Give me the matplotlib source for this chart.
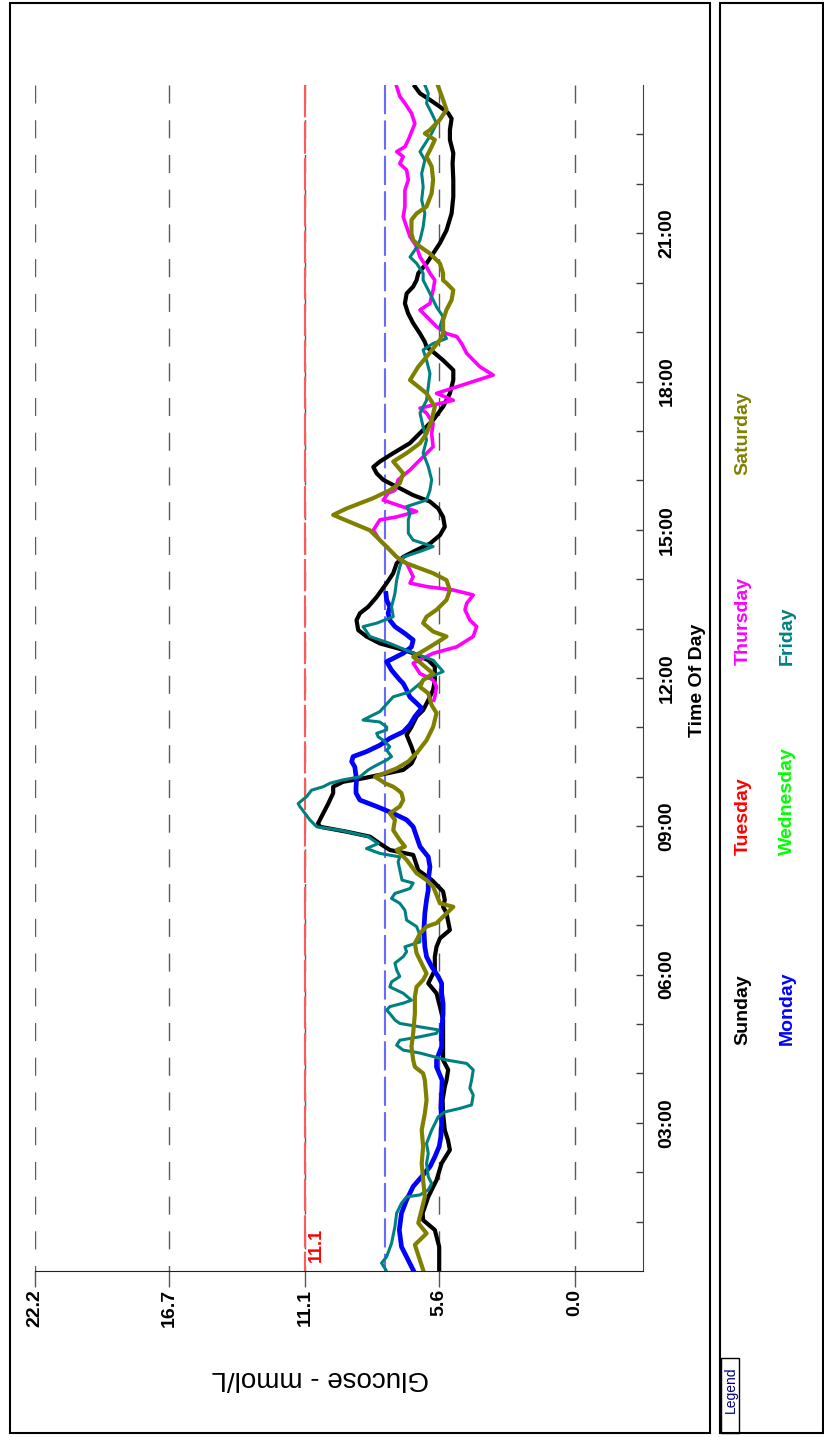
import matplotlib
matplotlib.use('Agg')
import matplotlib.pyplot as plt
from matplotlib.patches import Rectangle

plt.rcParams['font.family'] = ['Liberation Sans', 'DejaVu Sans']

# ---------------- data (time in hours, glucose in mmol/L) ----------------
sun_t = [0.0, 0.49, 0.83, 1.03, 1.17, 1.50, 1.84, 2.18, 2.45, 2.65,
         2.85, 3.19, 3.46, 3.73, 3.86, 4.07, 4.27, 5.08, 5.35, 5.62,
         5.82, 5.96, 6.09, 6.36, 6.56, 6.73, 6.90, 7.24, 7.37, 7.51,
         7.68, 7.91, 8.11, 8.32, 8.42, 8.52, 8.65, 8.79, 8.89, 8.99,
         9.06, 9.26, 9.46, 9.67, 9.80, 9.90, 9.97, 10.04, 10.14, 10.27,
         10.41, 10.61, 10.85, 11.01, 11.22, 11.35, 11.55, 11.76, 11.96, 12.23,
         12.36, 12.50, 12.57, 12.70, 12.84, 12.97, 13.17, 13.31, 13.44, 13.64,
         13.92, 14.12, 14.32, 14.45, 14.59, 14.72, 14.89, 15.06, 15.26, 15.43,
         15.57, 15.70, 15.84, 15.94, 16.01, 16.14, 16.27, 16.38, 16.55, 16.75,
         17.02, 17.22, 17.49, 17.76, 18.03, 18.23, 18.43, 18.60, 18.70, 18.80,
         18.97, 19.18, 19.38, 19.58, 19.78, 19.92, 20.05, 20.19, 20.39, 20.59,
         20.80, 21.06, 21.40, 21.74, 22.08, 22.41, 22.62, 22.89, 23.09, 23.32,
         23.43, 23.56, 23.70, 23.83, 23.97]
sun_g = [5.58, 5.58, 5.76, 6.24, 6.26, 6.03, 5.69, 5.48, 5.14, 5.22,
         5.35, 5.42, 5.44, 5.35, 5.28, 5.21, 5.42, 5.42, 5.55, 5.69,
         6.03, 5.89, 5.76, 5.76, 5.69, 5.55, 5.14, 5.28, 5.42, 5.35,
         5.42, 5.88, 6.44, 6.58, 6.65, 7.61, 8.02, 8.43, 9.39, 10.49,
         10.56, 10.35, 10.14, 9.94, 9.94, 9.53, 8.71, 8.02, 7.06, 6.72,
         6.58, 6.72, 6.92, 6.72, 6.51, 6.24, 6.03, 5.83, 5.76, 5.76,
         6.03, 6.65, 7.06, 8.02, 8.57, 8.91, 8.98, 8.84, 8.50, 8.15,
         7.74, 7.47, 7.33, 7.06, 6.51, 5.96, 5.55, 5.35, 5.42, 5.62,
         5.96, 6.65, 7.20, 7.61, 7.88, 8.15, 8.29, 8.02, 7.47, 6.79,
         6.24, 5.83, 5.42, 5.14, 5.00, 5.00, 5.42, 5.83, 6.10, 6.17,
         6.37, 6.65, 6.86, 6.99, 6.92, 6.65, 6.51, 6.44, 6.10, 5.83,
         5.55, 5.28, 5.07, 5.00, 5.00, 5.03, 5.00, 5.14, 5.14, 5.07,
         5.21, 5.55, 5.96, 6.37, 6.58]

mon_t = [0.02, 0.49, 0.83, 1.17, 1.44, 1.71, 1.91, 2.11, 2.31, 2.52,
         2.72, 2.99, 3.32, 3.60, 3.86, 4.13, 4.27, 4.54, 4.88, 5.21,
         5.41, 5.62, 5.82, 5.96, 6.16, 6.36, 6.56, 6.90, 7.24, 7.51,
         7.71, 7.91, 8.18, 8.38, 8.59, 8.79, 8.99, 9.13, 9.26, 9.40,
         9.53, 9.67, 9.80, 9.94, 10.20, 10.31, 10.41, 10.51, 10.64, 10.78,
         10.91, 11.05, 11.22, 11.39, 11.49, 11.62, 11.76, 11.89, 11.96, 12.16,
         12.33, 12.50, 12.63, 12.77, 12.90, 13.04, 13.17, 13.31, 13.44, 13.58, 13.71]
mon_g = [6.65, 7.13, 7.22, 7.13, 6.92, 6.65, 6.30, 5.96, 5.76, 5.58,
         5.51, 5.48, 5.51, 5.48, 5.46, 5.69, 5.69, 5.48, 5.48, 5.42,
         5.42, 5.48, 5.48, 5.62, 5.89, 6.10, 6.17, 6.21, 6.17, 6.10,
         6.03, 6.03, 5.96, 6.03, 6.37, 6.51, 6.65, 6.92, 7.47, 8.15,
         8.84, 9.00, 9.00, 8.98, 9.05, 9.18, 9.12, 8.57, 8.02, 7.61,
         7.06, 6.79, 6.58, 6.30, 6.51, 6.79, 6.92, 7.06, 7.20, 7.54,
         7.74, 7.06, 6.72, 6.65, 6.99, 7.40, 7.61, 7.68, 7.61, 7.74, 7.77]

thu_t = [11.55, 11.62, 11.82, 11.96, 12.09, 12.30, 12.50, 12.63, 12.84, 13.04,
         13.17, 13.38, 13.51, 13.68, 13.78, 13.85, 13.92, 14.05, 14.32, 14.39,
         14.52, 14.66, 14.79, 14.99, 15.20, 15.26, 15.37, 15.53, 15.60, 15.74,
         15.80, 16.01, 16.21, 16.68, 16.95, 17.15, 17.36, 17.46, 17.62, 17.76,
         18.13, 18.30, 18.57, 18.77, 18.91, 18.97, 19.11, 19.45, 19.58, 19.85,
         20.05, 20.19, 20.32, 20.52, 20.73, 20.93, 21.13, 21.33, 21.54, 21.87,
         22.08, 22.28, 22.41, 22.55, 22.65, 22.75, 22.89, 23.22, 23.43, 23.63,
         23.77, 23.97]
thu_g = [5.80, 5.76, 5.69, 5.83, 6.37, 6.65, 5.83, 4.86, 4.18, 4.04,
         4.32, 4.52, 4.45, 4.18, 5.00, 6.10, 6.78, 6.65, 6.92, 7.20,
         7.47, 7.74, 8.02, 8.29, 8.02, 7.33, 6.51, 7.47, 7.88, 7.68,
         7.40, 7.27, 6.78, 5.83, 5.89, 5.83, 6.10, 6.37, 5.00, 5.69,
         3.36, 3.91, 4.45, 4.66, 4.86, 5.28, 5.69, 6.37, 5.96, 5.83,
         5.76, 5.96, 6.10, 6.37, 6.51, 6.78, 6.92, 7.06, 6.99, 6.99,
         6.85, 6.92, 7.20, 7.06, 7.33, 6.99, 6.85, 6.58, 6.72, 6.99,
         7.20, 7.33]

fri_t = [0.02, 0.16, 0.29, 0.56, 0.90, 1.17, 1.37, 1.50, 1.54, 1.64,
         1.77, 1.91, 2.18, 2.38, 2.58, 2.85, 3.12, 3.22, 3.29, 3.36,
         3.56, 3.70, 3.86, 4.07, 4.20, 4.27, 4.41, 4.47, 4.57, 4.67,
         4.74, 4.81, 4.88, 4.94, 5.01, 5.08, 5.21, 5.28, 5.35, 5.42,
         5.48, 5.62, 5.75, 5.85, 5.96, 6.09, 6.23, 6.36, 6.46, 6.56,
         6.66, 6.80, 6.97, 7.10, 7.30, 7.44, 7.54, 7.64, 7.74, 7.85,
         7.91, 8.28, 8.38, 8.45, 8.55, 8.65, 8.79, 8.92, 8.99, 9.13,
         9.26, 9.40, 9.46, 9.60, 9.73, 9.80, 9.87, 9.94, 10.00, 10.14,
         10.20, 10.27, 10.34, 10.41, 10.54, 10.61, 10.74, 10.81, 10.88, 10.95,
         11.01, 11.11, 11.15, 11.22, 11.32, 11.62, 11.72, 11.89, 11.96, 12.13,
         12.36, 12.53, 12.70, 12.84, 13.04, 13.11, 13.24, 13.44, 13.71, 13.98,
         14.25, 14.45, 14.56, 14.66, 14.79, 14.93, 15.20, 15.33, 15.47, 15.60,
         15.80, 16.01, 16.28, 16.55, 16.82, 17.08, 17.36, 17.62, 17.89, 18.16,
         18.43, 18.64, 18.77, 18.87, 19.11, 19.31, 19.51, 19.65, 19.85, 20.05,
         20.19, 20.39, 20.52, 20.66, 20.86, 21.13, 21.40, 21.67, 21.94, 22.21,
         22.48, 22.65, 22.75, 23.02, 23.22, 23.43, 23.63, 23.83, 24.00]
fri_g = [7.77, 7.95, 7.74, 7.54, 7.40, 7.33, 7.13, 6.92, 6.37, 6.03,
         5.89, 6.03, 6.10, 6.03, 6.10, 5.89, 5.62, 5.35, 4.73, 4.25,
         4.18, 4.32, 4.25, 4.18, 4.45, 5.28, 6.37, 7.06, 7.33, 7.20,
         6.37, 5.69, 5.62, 6.37, 7.20, 7.40, 7.61, 7.74, 7.61, 7.06,
         6.72, 7.06, 7.61, 7.54, 7.20, 7.33, 7.40, 7.06, 6.92, 6.99,
         6.37, 6.37, 6.51, 6.92, 6.99, 7.20, 7.54, 7.40, 6.78, 6.65,
         7.11, 7.27, 7.20, 8.02, 8.57, 8.09, 8.50, 9.66, 10.62, 10.90,
         11.10, 11.31, 11.38, 11.03, 10.83, 10.35, 10.07, 9.53, 8.84, 8.50,
         8.29, 8.02, 7.74, 7.54, 7.74, 7.61, 7.88, 8.09, 8.15, 7.74,
         7.74, 8.02, 8.71, 8.43, 8.02, 7.47, 6.78, 6.37, 6.24, 5.42,
         5.83, 6.78, 7.61, 8.43, 8.71, 8.15, 7.47, 7.54, 7.40, 7.33,
         7.20, 7.06, 6.37, 5.83, 6.65, 6.85, 6.85, 6.78, 6.92, 6.10,
         5.96, 5.89, 6.03, 6.24, 6.10, 6.24, 6.37, 6.10, 6.03, 5.96,
         6.10, 6.24, 5.83, 5.28, 5.55, 5.42, 5.69, 5.83, 6.03, 6.24,
         6.24, 6.51, 6.78, 6.58, 6.37, 6.24, 6.17, 6.30, 6.24, 6.30,
         6.17, 6.37, 6.24, 5.89, 5.69, 5.89, 6.10, 6.03, 6.17]

sat_t = [0.02, 0.53, 0.76, 0.97, 1.50, 1.84, 2.18, 2.52, 2.85, 3.19,
         3.46, 3.86, 4.00, 4.13, 4.27, 4.54, 4.81, 5.21, 5.55, 5.75,
         5.89, 6.02, 6.43, 6.63, 6.83, 6.97, 7.04, 7.37, 7.44, 7.61,
         7.78, 7.91, 8.05, 8.32, 8.52, 8.59, 8.72, 8.92, 9.13, 9.26,
         9.40, 9.53, 9.67, 9.73, 9.80, 9.87, 9.94, 10.00, 10.17, 10.31,
         10.48, 10.74, 11.01, 11.29, 11.45, 11.69, 11.82, 11.96, 12.09, 12.43,
         12.63, 12.84, 12.94, 13.11, 13.24, 13.38, 13.58, 13.78, 13.98, 14.12,
         14.32, 14.45, 14.59, 14.99, 15.13, 15.30, 15.43, 15.64, 15.80, 15.94,
         16.14, 16.38, 16.55, 16.75, 16.95, 17.22, 17.49, 17.76, 18.03, 18.30,
         18.50, 18.84, 18.97, 19.24, 19.45, 19.65, 19.85, 19.99, 20.05, 20.19,
         20.39, 20.59, 20.73, 20.86, 21.00, 21.27, 21.40, 21.54, 21.81, 22.08,
         22.35, 22.55, 22.68, 22.89, 23.02, 23.09, 23.30, 23.50, 23.70, 23.97]
sat_g = [6.24, 6.58, 6.10, 6.44, 6.17, 6.24, 6.30, 6.24, 6.30, 6.17,
         6.10, 6.17, 6.24, 6.58, 6.65, 6.72, 6.65, 6.58, 6.58, 6.51,
         6.24, 6.10, 6.51, 6.58, 6.37, 6.10, 5.69, 5.00, 5.55, 5.69,
         5.83, 6.10, 6.51, 6.92, 7.33, 6.99, 7.20, 7.47, 7.40, 7.61,
         7.20, 7.06, 7.13, 7.27, 7.47, 7.81, 8.02, 8.22, 7.33, 6.85,
         6.51, 6.10, 5.83, 5.69, 5.89, 6.03, 6.37, 6.24, 5.83, 6.65,
         5.96, 5.28, 5.83, 6.24, 6.10, 5.69, 5.28, 5.14, 5.28, 5.83,
         6.92, 7.33, 7.61, 8.43, 9.12, 9.94, 9.39, 8.29, 7.61, 7.20,
         7.06, 7.47, 6.92, 6.37, 6.10, 5.89, 5.76, 6.10, 6.78, 6.44,
         6.10, 5.55, 5.42, 5.42, 5.28, 5.07, 5.00, 5.28, 5.42, 5.42,
         5.55, 5.96, 6.37, 6.65, 6.72, 6.72, 6.51, 6.10, 5.89, 5.83,
         5.89, 6.10, 5.96, 5.76, 6.17, 5.96, 5.55, 5.28, 5.42, 5.62]

glucose_ticks = [22.2, 16.7, 11.1, 5.6, 0.0]
glucose_labels = ['22.2', '16.7', '11.1', '5.6', '0.0']
time_ticks = [3, 6, 9, 12, 15, 18, 21]
time_labels = ['03:00', '06:00', '09:00', '12:00', '15:00', '18:00', '21:00']
high_limit = 11.1
target_limit = 7.8
days = ['Sunday', 'Monday', 'Tuesday', 'Wednesday', 'Thursday', 'Friday', 'Saturday']
day_colors = ['#000000', '#0000FF', '#FF0000', '#00FF00', '#FF00FF', '#008080', '#808000']

# ---------------- figure ----------------
W, H = 824, 1437
fig = plt.figure(figsize=(W / 100, H / 100), dpi=100)


def fx(px):
    return px / W


def fy(py):
    return 1 - py / H


# outer panels
fig.add_artist(Rectangle((fx(10), fy(1433)), fx(710) - fx(10), fy(3) - fy(1433),
                         transform=fig.transFigure, fill=False, lw=1.5, ec='black'))
fig.add_artist(Rectangle((fx(720), fy(1433)), fx(823) - fx(720), fy(3) - fy(1433),
                         transform=fig.transFigure, fill=False, lw=1.5, ec='black'))
fig.add_artist(Rectangle((fx(721), fy(1433)), fx(739) - fx(721), fy(1358) - fy(1433),
                         transform=fig.transFigure, fill=False, lw=1.0, ec='black'))
fig.text(fx(731), fy(1390), 'Legend', rotation=90, ha='center', va='center',
         fontsize=10, color='#000080')

ax = fig.add_axes([fx(35), fy(1271), fx(643) - fx(35), fy(85) - fy(1271)])
ax.set_xlim(22.2, -2.8)
ax.set_ylim(0, 24)

# grid lines (drawn from top down so dashes start at the top)
for g in glucose_ticks:
    ax.plot([g, g], [24, 0], color='#5a5a5a', lw=1, dashes=(13, 12), zorder=1)
ax.plot([high_limit, high_limit], [24, 0], color='#FF5a5a', lw=1.5, dashes=(15.5, 2), zorder=1.5)
ax.plot([target_limit, target_limit], [24, 0], color='#6a6aFF', lw=1.5, dashes=(14, 3), zorder=1.5)

# curves
ax.plot(sun_g, sun_t, color=day_colors[0], lw=3.0, zorder=3)
ax.plot(mon_g, mon_t, color=day_colors[1], lw=3.4, zorder=3)
ax.plot(thu_g, thu_t, color=day_colors[4], lw=2.6, zorder=3)
ax.plot(fri_g, fri_t, color=day_colors[5], lw=2.2, zorder=3)
ax.plot(sat_g, sat_t, color=day_colors[6], lw=3.0, zorder=3)

# spines
for s in ['left', 'top']:
    ax.spines[s].set_visible(False)
ax.spines['bottom'].set_color('#202020')
ax.spines['right'].set_color('#404040')

ax.set_xticks(glucose_ticks)
ax.set_xticklabels(glucose_labels, rotation=90, fontsize=14, fontweight='bold')
ax.tick_params(axis='x', direction='out', length=11.5, width=1, color='#555555', pad=1.5)

ax.yaxis.tick_right()
ax.set_yticks(time_ticks)
ax.set_yticklabels(time_labels, rotation=90, fontsize=14, fontweight='bold', va='center')
ax.set_yticks([h for h in range(1, 24) if h not in time_ticks], minor=True)
ax.tick_params(axis='y', which='both', direction='in', length=5, width=1, color='#404040', pad=11)

fig.text(fx(697), fy(680), 'Time Of Day', rotation=90, ha='center', va='center',
         fontsize=14, fontweight='bold')
fig.text(fx(320), fy(1378), 'Glucose - mmol/L', rotation=180, ha='center', va='center',
         fontsize=20)
fig.text(fx(316), fy(1245), '11.1', rotation=90, ha='center', va='center',
         fontsize=13, fontweight='bold', color='#FF0000')

# legend labels
col_x = [743, 787]
row_bottom = [1045, 855, 665, 475]
for i, (d, c) in enumerate(zip(days, day_colors)):
    fig.text(fx(col_x[i % 2]), fy(row_bottom[i // 2]), d, rotation=90, ha='center',
             va='bottom', fontsize=14, fontweight='bold', color=c)

fig.savefig('out.png', dpi=100)
